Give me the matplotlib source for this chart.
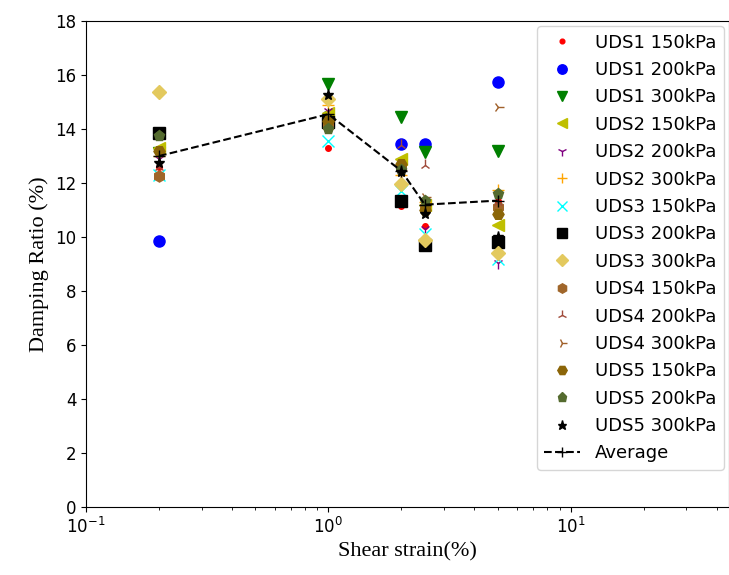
import numpy as np
import matplotlib
matplotlib.use("Agg")
from matplotlib import pyplot as plt

# shear strain levels (%)
strain = [0.2, 1, 2, 2.5, 5]

# damping ratio (%) per sample / confining pressure
uds1_150 = [12.6, 13.3, 11.15, 10.4, 11.35]
uds1_200 = [9.85, 14.5, 13.45, 13.45, 15.75]
uds1_300 = [13.1, 15.65, 14.45, 13.15, 13.2]
uds2_150 = [13.3, 14.6, 12.9, 11.2, 10.45]
uds2_200 = [12.9, 14.65, 12.3, 10.3, 9.05]
uds2_300 = [13.0, 14.9, 12.3, 11.3, 11.75]
uds3_150 = [12.3, 13.55, 11.7, 10.1, 9.2]
uds3_200 = [13.85, 14.25, 11.35, 9.7, 9.8]
uds3_300 = [15.37, 15.1, 11.95, 9.9, 9.4]
uds4_150 = [12.25, 14.1, 12.6, 11.1, 11.1]
uds4_200 = [12.6, 14.4, 13.4, 12.65, 11.3]
uds4_300 = [13.2, 14.3, 12.5, 11.5, 14.8]
uds5_150 = [13.2, 14.3, 12.7, 11.0, 10.85]
uds5_200 = [13.75, 14.0, 12.5, 11.35, 11.6]
uds5_300 = [12.75, 15.25, 12.4, 10.85, 10.0]
average = [13.0, 14.55, 12.45, 11.2, 11.35]

series = [
    ("UDS1 150kPa", uds1_150, "r", "."),
    ("UDS1 200kPa", uds1_200, "b", "o"),
    ("UDS1 300kPa", uds1_300, "g", "v"),
    ("UDS2 150kPa", uds2_150, "y", "<"),
    ("UDS2 200kPa", uds2_200, "purple", "1"),
    ("UDS2 300kPa", uds2_300, "orange", "+"),
    ("UDS3 150kPa", uds3_150, "cyan", "x"),
    ("UDS3 200kPa", uds3_200, "k", "s"),
    ("UDS3 300kPa", uds3_300, "#e3c95e", "D"),
    ("UDS4 150kPa", uds4_150, "#a0662a", "h"),
    ("UDS4 200kPa", uds4_200, "#a04a3a", "2"),
    ("UDS4 300kPa", uds4_300, "#a0602a", "4"),
    ("UDS5 150kPa", uds5_150, "#8b6508", "H"),
    ("UDS5 200kPa", uds5_200, "#556b2f", "p"),
    ("UDS5 300kPa", uds5_300, "k", "*"),
]

fig = plt.figure(figsize=(7.29, 5.75), dpi=100)
ax = fig.add_axes([0.118, 0.118, 0.882, 0.8455])

for label, vals, col, mk in series:
    ms = 8
    if mk == "D":
        ms = 7
    ax.plot(strain, vals, linestyle="none", marker=mk, color=col, markersize=ms, label=label)

ax.plot(strain, average, "k--+", markersize=8, label="Average")

ax.set_xscale("log")
ax.set_xlim(0.1, 45)
ax.set_ylim(0, 18)
ax.set_yticks(np.arange(0, 19, 2))
ax.tick_params(labelsize=12)
ax.set_xlabel("Shear strain(%)", family="Liberation Serif", fontsize=16)
ax.set_ylabel("Damping Ratio (%)", family="Liberation Serif", fontsize=16)
ax.legend(loc="upper right", fontsize=13, labelspacing=0.52, borderaxespad=0.3,
          markerscale=0.85)

fig.savefig("out.png", dpi=100)
